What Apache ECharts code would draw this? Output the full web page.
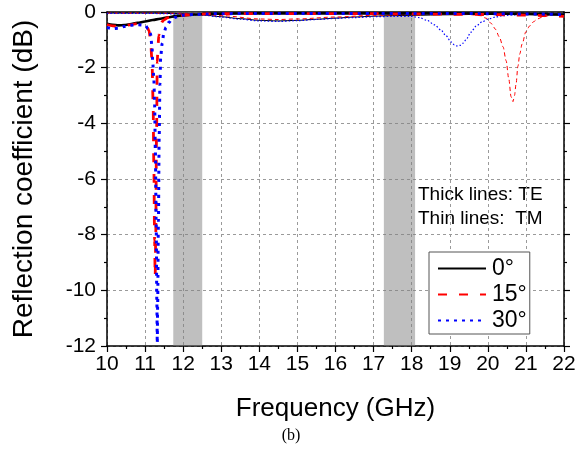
<!DOCTYPE html>
<html>
<head>
<meta charset="utf-8">
<script src="https://cdn.jsdelivr.net/npm/echarts@6/dist/echarts.min.js"></script>
<style>
  html, body { margin: 0; padding: 0; background: #fff; }
  #chart { width: 582px; height: 454px; }
</style>
</head>
<body>
<div id="chart"></div>
<script>
// Reflection coefficient (dB) versus frequency (GHz).
// Thick lines: TE polarisation, thin lines: TM polarisation.

const angleNames = ['0°', '15°', '30°'];

// TE, 0° incidence
const te0Freq = [10, 10.15, 10.3, 10.45, 10.6, 10.8, 11, 11.2, 11.4, 11.6, 11.8, 12, 12.3, 12.6, 13, 14, 15, 16, 17, 18, 19, 20, 21, 21.5, 22];
const te0Val  = [-0.42, -0.46, -0.48, -0.47, -0.44, -0.39, -0.34, -0.29, -0.24, -0.19, -0.15, -0.12, -0.09, -0.07, -0.06, -0.05, -0.05, -0.05, -0.05, -0.05, -0.05, -0.06, -0.07, -0.08, -0.1];

// TE, 15° incidence
const te15Freq = [10, 10.15, 10.3, 10.45, 10.6, 10.8, 10.95, 11.05, 11.1, 11.14, 11.18, 11.21, 11.23, 11.25, 11.265, 11.28, 11.3, 11.32, 11.34, 11.36, 11.4, 11.45, 11.5, 11.6, 11.8, 12, 12.3, 12.6, 13, 14, 15, 16, 17, 18, 19, 20, 21, 21.5, 22];
const te15Val  = [-0.45, -0.5, -0.52, -0.5, -0.46, -0.42, -0.45, -0.55, -0.66, -0.95, -1.7, -3.2, -5.5, -8.2, -9.5, -8.0, -4.5, -1.8, -1.2, -0.85, -0.48, -0.35, -0.28, -0.2, -0.14, -0.11, -0.09, -0.07, -0.06, -0.06, -0.06, -0.06, -0.06, -0.07, -0.08, -0.09, -0.11, -0.13, -0.16];

// TE, 30° incidence
const te30Freq = [10, 10.15, 10.3, 10.45, 10.6, 10.8, 11, 11.08, 11.14, 11.18, 11.2, 11.23, 11.25, 11.27, 11.29, 11.31, 11.32, 11.33, 11.35, 11.37, 11.39, 11.41, 11.45, 11.49, 11.55, 11.62, 11.7, 11.8, 11.9, 12, 12.3, 12.6, 13, 14, 15, 16, 17, 18, 19, 20, 21, 22];
const te30Val  = [-0.55, -0.6, -0.58, -0.52, -0.48, -0.46, -0.48, -0.6, -0.77, -1.2, -1.8, -2.4, -3.3, -5.0, -7.5, -10.5, -11.9, -10.5, -7.5, -4.5, -2.6, -1.6, -1.12, -0.77, -0.55, -0.38, -0.27, -0.19, -0.15, -0.12, -0.09, -0.07, -0.06, -0.05, -0.05, -0.05, -0.05, -0.05, -0.05, -0.06, -0.07, -0.09];

// TM, 0° incidence
const tm0Freq = [10, 11, 12, 12.5, 13, 13.5, 14, 14.5, 15, 15.5, 16, 16.5, 17, 17.5, 18, 19, 20, 21, 22];
const tm0Val  = [-0.04, -0.04, -0.06, -0.1, -0.17, -0.24, -0.3, -0.32, -0.3, -0.26, -0.22, -0.18, -0.15, -0.13, -0.12, -0.1, -0.08, -0.07, -0.06];

// TM, 15° incidence
const tm15Freq = [10, 11, 12, 12.5, 13, 14, 14.5, 15, 16, 17, 18, 19, 19.5, 19.8, 19.95, 20.1, 20.2, 20.3, 20.4, 20.48, 20.55, 20.61, 20.66, 20.7, 20.74, 20.79, 20.84, 20.9, 21, 21.1, 21.2, 21.3, 21.45, 21.7, 22];
const tm15Val  = [-0.04, -0.04, -0.05, -0.08, -0.13, -0.25, -0.27, -0.25, -0.18, -0.12, -0.09, -0.08, -0.09, -0.13, -0.22, -0.42, -0.62, -0.89, -1.25, -1.75, -2.4, -3.04, -3.22, -3.0, -2.6, -1.95, -1.5, -1.15, -0.71, -0.5, -0.35, -0.25, -0.17, -0.1, -0.08];

// TM, 30° incidence
const tm30Freq = [10, 11, 12, 12.5, 13, 13.5, 14, 14.5, 15, 15.5, 16, 16.5, 17, 17.5, 18, 18.2, 18.4, 18.6, 18.77, 18.9, 19.03, 19.12, 19.19, 19.27, 19.35, 19.45, 19.55, 19.7, 19.85, 20, 20.2, 20.4, 20.7, 21, 21.5, 22];
const tm30Val  = [-0.05, -0.05, -0.07, -0.11, -0.18, -0.26, -0.32, -0.34, -0.31, -0.27, -0.23, -0.2, -0.17, -0.16, -0.16, -0.2, -0.3, -0.46, -0.65, -0.85, -1.07, -1.18, -1.22, -1.2, -1.12, -0.95, -0.73, -0.5, -0.35, -0.26, -0.18, -0.13, -0.1, -0.09, -0.08, -0.07];

// Shaded frequency bands (GHz)
const bandStart = [11.74, 17.27];
const bandEnd   = [12.5, 18.09];

const xTicks = { min: 10, max: 22, step: 1 };
const yTicks = { min: -12, max: 0, step: 2 };

function pairs(xs, ys) { return xs.map((x, i) => [x, ys[i]]); }

const font = 'Liberation Sans, Arial, sans-serif';
const colors = ['#000000', '#ff0000', '#0000ff'];

const thickStyles = [
  { width: 2.6, type: 'solid' },
  { width: 2.8, type: [9, 12] },
  { width: 3, type: [3, 5] }
];
const thinStyles = [
  { width: 1, type: 'solid' },
  { width: 1, type: [4, 3] },
  { width: 1.2, type: [1.5, 2] }
];

function lineSeries(name, data, color, style, z) {
  return {
    type: 'line',
    name: name,
    data: data,
    symbol: 'none',
    smooth: 0.3,
    smoothMonotone: 'x',
    z: z,
    color: color,
    lineStyle: { color: color, width: style.width, type: style.type, cap: 'butt' },
    emphasis: { disabled: true }
  };
}

const series = [
  {
    type: 'line',
    data: [],
    silent: true,
    z: 1,
    markArea: {
      silent: true,
      itemStyle: { color: 'rgba(128,128,128,0.5)' },
      data: bandStart.map((s, i) => [{ xAxis: s }, { xAxis: bandEnd[i] }])
    }
  },
  lineSeries(angleNames[0], pairs(te0Freq, te0Val), colors[0], thickStyles[0], 5),
  lineSeries(angleNames[1], pairs(te15Freq, te15Val), colors[1], thickStyles[1], 6),
  lineSeries(angleNames[2], pairs(te30Freq, te30Val), colors[2], thickStyles[2], 7),
  lineSeries(angleNames[0], pairs(tm0Freq, tm0Val), colors[0], thinStyles[0], 4),
  lineSeries(angleNames[1], pairs(tm15Freq, tm15Val), colors[1], thinStyles[1], 4),
  lineSeries(angleNames[2], pairs(tm30Freq, tm30Val), colors[2], thinStyles[2], 4)
];

const gridLine = { show: true, lineStyle: { color: '#9a9a9a', width: 1, type: [3, 3] } };
const axisLine = { show: true, onZero: false, lineStyle: { color: '#000', width: 1.5 } };

const chart = echarts.init(document.getElementById('chart'), null, { renderer: 'canvas' });
chart.setOption({
  animation: false,
  backgroundColor: '#fff',
  grid: { left: 107, right: 18, top: 12, bottom: 108, containLabel: false },
  xAxis: [
    {
      type: 'value', position: 'bottom',
      min: xTicks.min, max: xTicks.max, interval: xTicks.step,
      name: 'Frequency (GHz)', nameLocation: 'middle', nameGap: 50,
      nameTextStyle: { fontFamily: font, fontSize: 26, color: '#000' },
      axisLine: axisLine,
      axisTick: { show: true, inside: false, length: 6, lineStyle: { color: '#000', width: 1.2 } },
      minorTick: { show: true, splitNumber: 2, length: 3, lineStyle: { color: '#000', width: 1.2 } },
      axisLabel: { fontFamily: font, fontSize: 21, color: '#000', margin: 8 },
      splitLine: gridLine
    },
    {
      type: 'value', position: 'top',
      min: xTicks.min, max: xTicks.max, interval: xTicks.step,
      axisLine: axisLine, axisTick: { show: false }, axisLabel: { show: false }, splitLine: { show: false }
    }
  ],
  yAxis: [
    {
      type: 'value', position: 'left',
      min: yTicks.min, max: yTicks.max, interval: yTicks.step,
      name: 'Reflection coefficient (dB)', nameLocation: 'middle', nameGap: 69, nameRotate: 90,
      nameTextStyle: { fontFamily: font, fontSize: 28, color: '#000' },
      axisLine: axisLine,
      axisTick: { show: true, inside: false, length: 6, lineStyle: { color: '#000', width: 1.2 } },
      minorTick: { show: true, splitNumber: 2, length: 3, lineStyle: { color: '#000', width: 1.2 } },
      axisLabel: { fontFamily: font, fontSize: 21, color: '#000', margin: 11 },
      splitLine: gridLine
    },
    {
      type: 'value', position: 'right',
      min: yTicks.min, max: yTicks.max, interval: yTicks.step,
      axisLine: axisLine,
      axisTick: { show: true, inside: false, length: 6, lineStyle: { color: '#000', width: 1.2 } },
      minorTick: { show: true, splitNumber: 2, length: 3, lineStyle: { color: '#000', width: 1.2 } },
      axisLabel: { show: false }, splitLine: { show: false }
    }
  ],
  legend: {
    data: angleNames,
    orient: 'vertical',
    left: 429, top: 252,
    padding: [5, 3, 2, 8],
    itemGap: 3,
    itemWidth: 48,
    itemHeight: 23,
    backgroundColor: '#fff',
    borderColor: '#555',
    borderWidth: 1,
    borderRadius: 0,
    itemStyle: { opacity: 0 },
    textStyle: { fontFamily: font, fontSize: 23, color: '#000', padding: [0, 0, 0, 1] },
    selectedMode: false
  },
  graphic: [
    { type: 'text', left: 418, top: 185, style: { text: 'Thick lines: TE', font: '19px ' + font, fill: '#000' } },
    { type: 'text', left: 418, top: 209, style: { text: 'Thin lines:  TM', font: '19px ' + font, fill: '#000' } },
    { type: 'text', left: 'center', top: 428, style: { text: '(b)', font: '16px Liberation Serif, Times New Roman, serif', fill: '#000' } }
  ],
  series: series
});
</script>
</body>
</html>
